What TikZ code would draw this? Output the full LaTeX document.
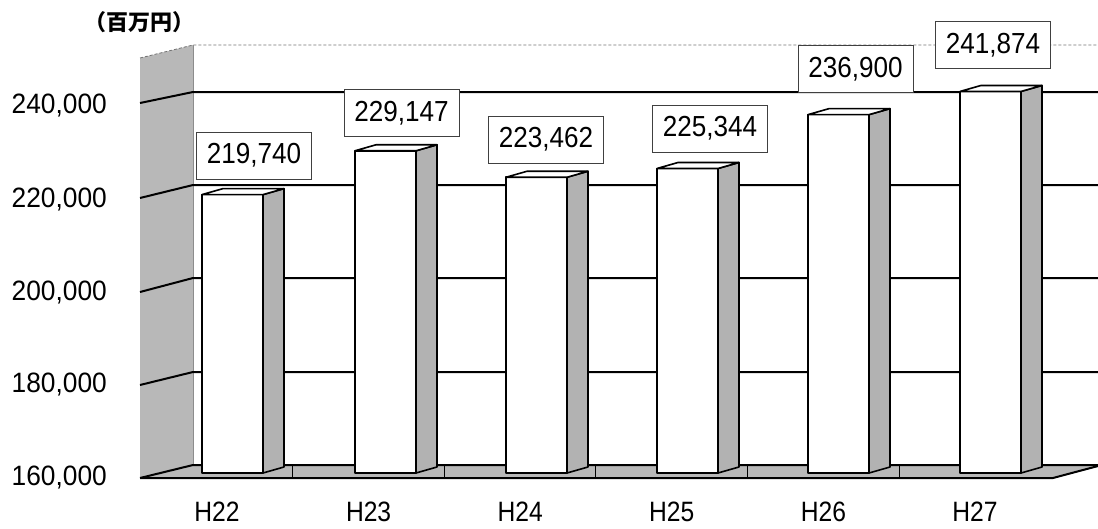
\documentclass[tikz,border=0pt]{standalone}
\usepackage{fontspec}
\setmainfont{Liberation Sans}
\newfontfamily\numfont[FakeStretch=0.9]{Liberation Sans}
\newfontfamily\axfont[FakeStretch=0.94]{Liberation Sans}
\newfontfamily\catfont[FakeStretch=0.88]{Liberation Sans}
\newfontfamily\cjk{Noto Sans CJK JP}
\begin{document}
\begin{tikzpicture}[x=1pt,y=-1pt,
  wallfill/.style={fill=black!28},
  gridline/.style={line width=2pt,black},
  barfront/.style={fill=white,draw=black,line width=1.6pt,line join=round},
  barside/.style={fill=black!30,draw=black,line width=1.6pt,line join=round},
  valbox/.style={draw=black!75,fill=white,line width=0.9pt,minimum width=115pt,minimum height=47pt,inner sep=0pt,font=\numfont\fontsize{29}{32}\selectfont},
  axlabel/.style={font=\axfont\fontsize{28}{32}\selectfont,inner sep=0pt},
  catlabel/.style={font=\catfont\fontsize{28}{32}\selectfont,inner sep=0pt}]
\useasboundingbox (0,0) rectangle (1098,528);
% side wall
\fill[wallfill] (140,58) -- (193,45) -- (193,465) -- (140,478) -- cycle;
% floor
\fill[wallfill] (140,478) -- (193,465) -- (1106,465) -- (1053,478) -- cycle;
% back wall top and corner
\draw[black!55,line width=0.8pt,densely dashed] (140,58) -- (193,45) -- (1098,45);
\draw[black!45,line width=0.8pt] (193,45) -- (193,465);
% grid lines
\foreach \yb/\yf in {92/103,185/198,278/292,372/385} {
  \draw[gridline] (140,\yf) -- (193,\yb) -- (1098,\yb);
}
\draw[gridline] (140,478) -- (193,465) -- (1098,465);
\draw[gridline] (140,478) -- (1053,478) -- (1098,466);
\foreach \k in {1,...,5} {
  \draw[black,line width=0.8pt] ({141+151.6*\k},466) -- ({141+151.6*\k},478);
}
% bars
\foreach \x/\v in {202/219.740,355/229.147,506/223.462,657/225.344,808/236.900,960/241.874} {
  \pgfmathsetmacro\yt{473-(\v-160)*4.66}
  \draw[barside] (\x+61,473) -- (\x+82,467) -- (\x+82,\yt-6) -- (\x+61,\yt) -- cycle;
  \draw[barfront] (\x,\yt) rectangle (\x+61,473);
  \draw[barfront] (\x,\yt) -- (\x+21,\yt-6) -- (\x+82,\yt-6) -- (\x+61,\yt) -- cycle;
}
% value boxes
\node[valbox] (v22) at (254,155.5) {219,740};
\node[valbox] (v23) at (401.5,113) {229,147};
\node[valbox] (v24) at (546,139.5) {223,462};
\node[valbox] (v25) at (710,128.5) {225,344};
\node[valbox] (v26) at (855.5,69) {236,900};
\node[valbox] (v27) at (993,45) {241,874};
% axis labels
\node[axlabel,anchor=east] (y240) at (107,106) {240,000};
\node[axlabel,anchor=east] (y220) at (107,200) {220,000};
\node[axlabel,anchor=east] (y200) at (107,293) {200,000};
\node[axlabel,anchor=east] (y180) at (107,385) {180,000};
\node[axlabel,anchor=east] (y160) at (107,478) {160,000};
\foreach \k/\t in {0/H22,1/H23,2/H24,3/H25,4/H26,5/H27} {
  \node[catlabel] (c\k) at ({217+151.6*\k},512) {\t};
}
\node[font=\cjk\bfseries\fontsize{22}{24}\selectfont,inner sep=0pt] (unit) at (139,22) {（百万円）};
\end{tikzpicture}
\end{document}
